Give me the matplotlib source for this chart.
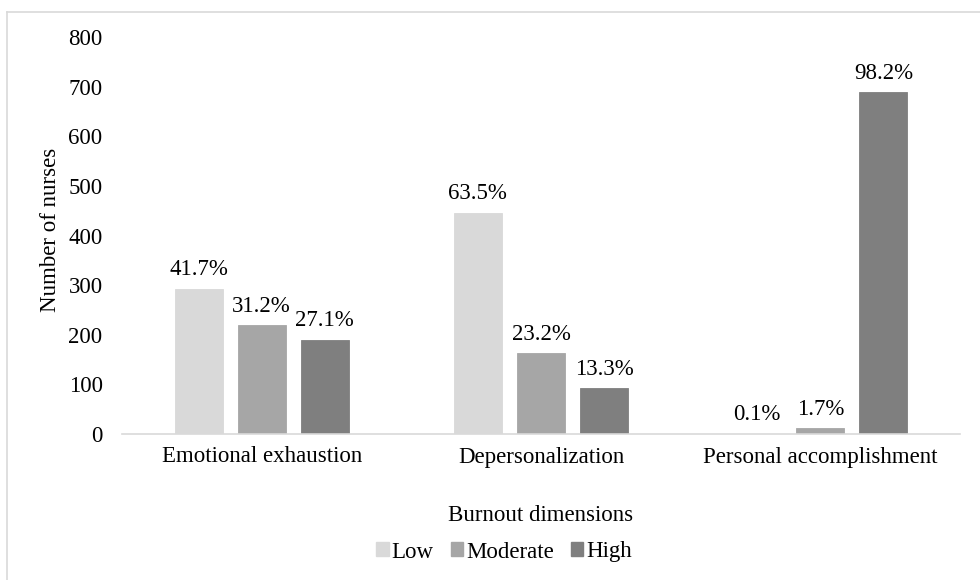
import matplotlib
matplotlib.use("Agg")
import matplotlib.pyplot as plt
from matplotlib.lines import Line2D
import numpy as np

plt.rcParams['font.family'] = ['Liberation Serif', 'DejaVu Serif']
FS = 16.5

categories = ["Emotional exhaustion", "Depersonalization", "Personal accomplishment"]
levels = ["Low", "Moderate", "High"]
counts = {
    "Low": [293, 446, 1],
    "Moderate": [219, 163, 12],
    "High": [190, 93, 689],
}
percent_labels = {
    "Low": ["41.7%", "63.5%", "0.1%"],
    "Moderate": ["31.2%", "23.2%", "1.7%"],
    "High": ["27.1%", "13.3%", "98.2%"],
}
colors = {"Low": "#D9D9D9", "Moderate": "#A6A6A6", "High": "#7F7F7F"}
yticks = [0, 100, 200, 300, 400, 500, 600, 700, 800]

fig = plt.figure(figsize=(9.8, 5.8), dpi=100)
ax = fig.add_axes([122 / 980, 1 - 434 / 580, (960 - 122) / 980, (434 - 37) / 580])

x = np.arange(len(categories))
width = 0.172
step = 0.226
for i, lvl in enumerate(levels):
    pos = x + (i - 1) * step
    bars = ax.bar(pos, counts[lvl], width, color=colors[lvl], label=lvl,
                  edgecolor=colors[lvl], linewidth=0.6)
    for b, lab in zip(bars, percent_labels[lvl]):
        ax.annotate(lab, (b.get_x() + b.get_width() / 2, b.get_height()),
                    xytext=(0, 6), textcoords="offset points",
                    ha="center", va="bottom", fontsize=FS)

ax.set_xlim(-0.5, 2.5)
ax.set_ylim(0, 800)
ax.set_yticks(yticks)
ax.set_yticklabels([str(v) for v in yticks], fontsize=FS)
ax.set_xticks(x)
ax.set_xticklabels(categories, fontsize=FS)
ax.tick_params(axis="both", length=0)
ax.tick_params(axis="y", pad=14)
ax.tick_params(axis="x", pad=9)
for s in ["top", "right", "left"]:
    ax.spines[s].set_visible(False)
ax.spines["bottom"].set_color("#D9D9D9")
ax.spines["bottom"].set_linewidth(1.2)

ax.set_xlabel("Burnout dimensions", fontsize=FS, labelpad=27)
fig.text(50 / 980, 1 - 230 / 580, "Number of nurses", rotation=90,
         ha="center", va="center", fontsize=FS)

handles = [plt.Rectangle((0, 0), 1, 1, color=colors[l]) for l in levels]
fig.legend(handles, levels, loc="center", bbox_to_anchor=(504 / 980, 1 - 552 / 580),
           ncol=3, frameon=False, fontsize=FS, handlelength=0.55, handleheight=0.55,
           handletextpad=0.12, columnspacing=0.75)

# outer chart frame (top and left edges)
fig.add_artist(Line2D([7 / 980, 1.0], [1 - 12 / 580, 1 - 12 / 580],
                      transform=fig.transFigure, color="#D9D9D9", linewidth=1.2))
fig.add_artist(Line2D([7 / 980, 7 / 980], [0.0, 1 - 12 / 580],
                      transform=fig.transFigure, color="#D9D9D9", linewidth=1.2))

fig.savefig("out.png", dpi=100, facecolor="white")
